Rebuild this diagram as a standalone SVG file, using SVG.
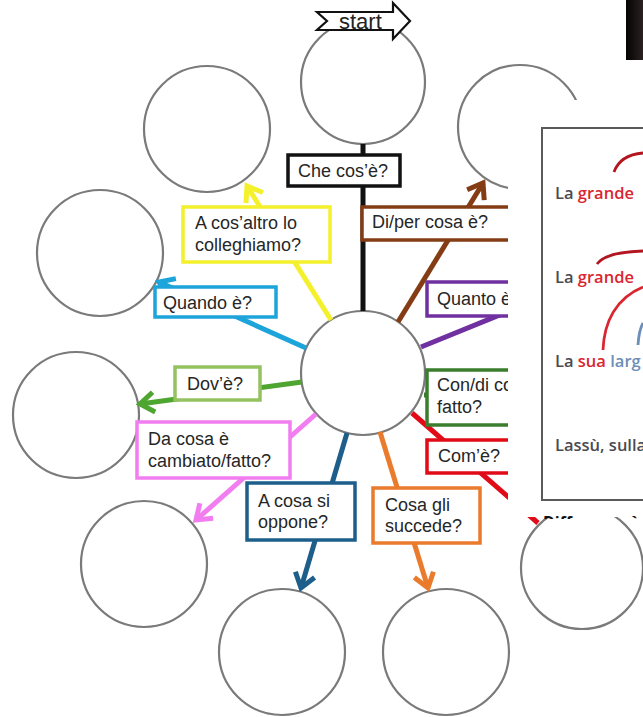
<svg xmlns="http://www.w3.org/2000/svg" width="643" height="717" viewBox="0 0 643 717">
<style>
.c{fill:#fff;stroke:#7a7a7a;stroke-width:2.2}
.b{fill:#fff;stroke-width:3.5}
.t{font-family:"Liberation Sans",Arial,sans-serif;font-size:18px;fill:#262626}
.ln{fill:none;stroke-width:5;stroke-linecap:butt}
.p{font-family:"Open Sans","Liberation Sans",sans-serif;font-size:16.5px;font-weight:600;fill:#4a4a52}
</style>
<defs>
<marker id="mBr" markerUnits="userSpaceOnUse" viewBox="-20 -15 30 30" markerWidth="30" markerHeight="30" refX="0" refY="0" orient="auto"><path d="M-14,-10 L0,0 L-14,10" fill="none" stroke="#843c15" stroke-width="5"/></marker>
<marker id="mOr" markerUnits="userSpaceOnUse" viewBox="-20 -15 30 30" markerWidth="30" markerHeight="30" refX="0" refY="0" orient="auto"><path d="M-14,-10 L0,0 L-14,10" fill="none" stroke="#ea7a2c" stroke-width="5"/></marker>
<marker id="mDb" markerUnits="userSpaceOnUse" viewBox="-20 -15 30 30" markerWidth="30" markerHeight="30" refX="0" refY="0" orient="auto"><path d="M-14,-10 L0,0 L-14,10" fill="none" stroke="#1d5f8a" stroke-width="5"/></marker>
<marker id="mPk" markerUnits="userSpaceOnUse" viewBox="-20 -15 30 30" markerWidth="30" markerHeight="30" refX="0" refY="0" orient="auto"><path d="M-14,-10 L0,0 L-14,10" fill="none" stroke="#f27df0" stroke-width="5"/></marker>
<marker id="mGr" markerUnits="userSpaceOnUse" viewBox="-20 -15 30 30" markerWidth="30" markerHeight="30" refX="0" refY="0" orient="auto"><path d="M-14,-10 L0,0 L-14,10" fill="none" stroke="#4ea530" stroke-width="5"/></marker>
<marker id="mCy" markerUnits="userSpaceOnUse" viewBox="-20 -15 30 30" markerWidth="30" markerHeight="30" refX="0" refY="0" orient="auto"><path d="M-14,-10 L0,0 L-14,10" fill="none" stroke="#1da4da" stroke-width="5"/></marker>
<marker id="mYe" markerUnits="userSpaceOnUse" viewBox="-20 -15 30 30" markerWidth="30" markerHeight="30" refX="0" refY="0" orient="auto"><path d="M-14,-10 L0,0 L-14,10" fill="none" stroke="#f4f02c" stroke-width="5"/></marker>
<linearGradient id="dark" x1="0" y1="0" x2="1" y2="0"><stop offset="0" stop-color="#050202"/><stop offset="1" stop-color="#2a2222"/></linearGradient>
<clipPath id="diffClip"><rect x="540" y="505" width="103" height="14"/></clipPath>
</defs>

<g id="circles">
<g id="n-top"><circle class="c" cx="363" cy="82" r="62"/></g>
<g id="n-topright"><circle class="c" cx="520" cy="127" r="62"/></g>
<g id="n-upperleft"><circle class="c" cx="207" cy="129" r="63"/></g>
<g id="n-left"><circle class="c" cx="100" cy="253" r="63"/></g>
<g id="n-lowerleft"><circle class="c" cx="76" cy="415" r="63"/></g>
<g id="n-bottomleft"><circle class="c" cx="144" cy="564" r="63"/></g>
<g id="n-bottom1"><circle class="c" cx="282" cy="652" r="63"/></g>
<g id="n-bottom2"><circle class="c" cx="446" cy="652" r="63"/></g>
<g id="n-bottomright"><circle class="c" cx="582" cy="568" r="61"/></g>
<g id="n-center"><circle class="c" cx="363" cy="373" r="62"/></g>
</g>

<g id="connectors">
<line class="ln" x1="363" y1="311" x2="363" y2="144" stroke="#111"/>
<line class="ln" x1="398" y1="322" x2="483" y2="183" stroke="#843c15" marker-end="url(#mBr)"/>
<line class="ln" x1="421" y1="347" x2="512" y2="310" stroke="#7030a0"/>
<line class="ln" x1="424" y1="395" x2="512" y2="395" stroke="#3a7d2c"/>
<line class="ln" x1="412" y1="413" x2="538" y2="523" stroke="#e10b17"/>
<line class="ln" x1="380" y1="432" x2="428" y2="588" stroke="#ea7a2c" marker-end="url(#mOr)"/>
<line class="ln" x1="347" y1="433" x2="301" y2="588" stroke="#1d5f8a" marker-end="url(#mDb)"/>
<line class="ln" x1="316" y1="414" x2="196" y2="520" stroke="#f27df0" marker-end="url(#mPk)"/>
<line class="ln" x1="302" y1="382" x2="140" y2="404" stroke="#4ea530" marker-end="url(#mGr)"/>
<line class="ln" x1="306" y1="348" x2="159" y2="282" stroke="#1da4da" marker-end="url(#mCy)"/>
<line class="ln" x1="331" y1="320" x2="247" y2="186" stroke="#f4f02c" marker-end="url(#mYe)"/>
</g>

<g id="start">
<path d="M317,12 L393,12 L393,3 L410,21 L393,39 L393,30 L317,30 L327,21 Z" fill="#fff" stroke="#111" stroke-width="2.2" stroke-linejoin="miter"/>
<text x="339" y="29" font-family="Liberation Sans,Arial,sans-serif" font-size="22" fill="#222">start</text>
</g>

<g id="q-checos">
<rect class="b" x="288" y="155" width="112" height="31" stroke="#111"/>
<text class="t" x="298" y="177">Che cos’è?</text>
</g>
<g id="q-diper">
<rect class="b" x="362" y="207" width="160" height="33" stroke="#843c15"/>
<text class="t" x="372" y="228">Di/per cosa è?</text>
</g>
<g id="q-quanto">
<rect class="b" x="427" y="282" width="100" height="34" stroke="#7030a0"/>
<text class="t" x="437" y="305">Quanto è</text>
</g>
<g id="q-condi">
<rect class="b" x="427" y="370" width="100" height="55" stroke="#3a7d2c"/>
<text class="t" x="437" y="391">Con/di co</text>
<text class="t" x="437" y="413">fatto?</text>
</g>
<g id="q-come">
<rect class="b" x="427" y="440" width="100" height="33" stroke="#e10b17"/>
<text class="t" x="438" y="462">Com’è?</text>
</g>
<g id="q-cosagli">
<rect class="b" x="373" y="488" width="107" height="55" stroke="#ea7a2c"/>
<text class="t" x="385" y="511">Cosa gli</text>
<text class="t" x="385" y="532">succede?</text>
</g>
<g id="q-acosa">
<rect class="b" x="247" y="483" width="108" height="57" stroke="#1d5f8a"/>
<text class="t" x="258" y="507">A cosa si</text>
<text class="t" x="258" y="528">oppone?</text>
</g>
<g id="q-dacosa">
<rect class="b" x="137" y="422" width="153" height="56" stroke="#f27df0"/>
<text class="t" x="148" y="445">Da cosa è</text>
<text class="t" x="148" y="467">cambiato/fatto?</text>
</g>
<g id="q-dove">
<rect class="b" x="175" y="367" width="85" height="33" stroke="#93c25f"/>
<text class="t" x="187" y="390">Dov’è?</text>
</g>
<g id="q-quando">
<rect class="b" x="155" y="287" width="121" height="30" stroke="#1da4da"/>
<text class="t" x="163" y="309">Quando è?</text>
</g>
<g id="q-acosaltro">
<rect class="b" x="183" y="207" width="147" height="55" stroke="#f4f02c"/>
<text class="t" x="195" y="229">A cos’altro lo</text>
<text class="t" x="195" y="251">colleghiamo?</text>
</g>

<g id="overlay-panel">
<rect x="508" y="100" width="135" height="417" fill="#fff"/>
<rect x="542" y="128" width="110" height="372" fill="#fff" stroke="#5a5a5a" stroke-width="2"/>
<path d="M614,172 Q620,155 643,153" fill="none" stroke="#b3161f" stroke-width="2.8"/>
<text class="p" x="555" y="199">La <tspan fill="#d9262f">grande</tspan></text>
<path d="M597,264 Q606,252 643,251" fill="none" stroke="#b3161f" stroke-width="2.8"/>
<text class="p" x="555" y="283">La <tspan fill="#d9262f">grande</tspan></text>
<path d="M603,350 C604,322 616,298 643,287" fill="none" stroke="#d9262f" stroke-width="2.8"/>
<path d="M638,345 Q639,330 643,323" fill="none" stroke="#6c8fb8" stroke-width="2.8"/>
<text class="p" x="555" y="367">La <tspan fill="#d9262f">sua</tspan> <tspan fill="#6c8fb8">larg</tspan></text>
<text class="p" x="555" y="451">Lassù, sulla</text>
<text x="543" y="528" clip-path="url(#diffClip)" font-family="Open Sans,Liberation Sans,sans-serif" font-size="16" font-weight="bold" fill="#111">Differenza è</text>
</g>

<g id="dark-corner">
<rect x="626" y="0" width="17" height="60" fill="url(#dark)"/>
</g>
</svg>
